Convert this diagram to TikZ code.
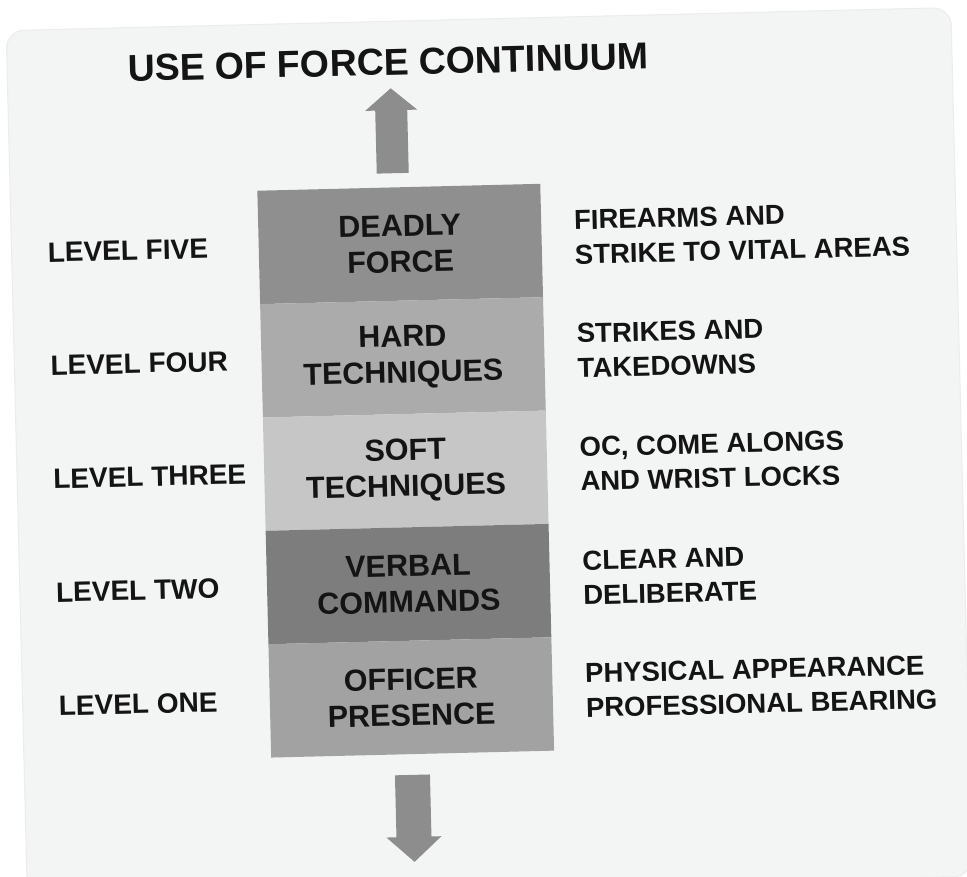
\documentclass[tikz,border=0pt]{standalone}
\usepackage{fontspec}
\setmainfont{Liberation Sans}
\definecolor{cardbg}{HTML}{F3F4F4}
\definecolor{cardline}{HTML}{EBECEC}
\definecolor{bandA}{HTML}{8F8F8F}
\definecolor{bandB}{HTML}{ABABAB}
\definecolor{bandC}{HTML}{C6C6C6}
\definecolor{bandD}{HTML}{7D7D7D}
\definecolor{bandE}{HTML}{A2A2A2}
\definecolor{arrowgray}{HTML}{8D8D8D}
\definecolor{ink}{HTML}{141414}
\tikzset{
  band/.style={minimum width=283pt, minimum height=113.4pt, inner sep=0pt, anchor=north west,
    align=center, text=ink, font=\bfseries\fontsize{30.5}{36}\selectfont, transform shape},
  levellabel/.style={anchor=west, inner sep=0pt, text=ink, font=\bfseries\fontsize{28}{34}\selectfont, transform shape},
  desclabel/.style={anchor=west, inner sep=0pt, align=left, text=ink, font=\bfseries\fontsize{27.5}{34.5}\selectfont, transform shape},
  titlelabel/.style={inner sep=0pt, text=ink, font=\bfseries\fontsize{37.5}{40}\selectfont, transform shape},
}
\begin{document}
\begin{tikzpicture}[x=1pt,y=-1pt]
\useasboundingbox (0,0) rectangle (967,876);
\fill[white] (0,0) rectangle (967,876);
\begin{scope}[rotate around={1.4:(405,470)}]
  % card
  \filldraw[fill=cardbg, draw=cardline, line width=1pt, rounded corners=18pt] (17,21) rectangle (962,890);
  % title
  \node[titlelabel] (title) at (398,62) {USE OF FORCE CONTINUUM};
  % up arrow
  \fill[arrowgray] (384,173) -- (384,110) -- (374,110) -- (400,88) -- (426,110) -- (416,110) -- (416,173) -- cycle;
  % bands
  \node[band, fill=bandA] (b5) at (264,187)   {DEADLY\\FORCE};
  \node[band, fill=bandB] (b4) at (264,300.4) {HARD\\TECHNIQUES};
  \node[band, fill=bandC] (b3) at (264,413.8) {SOFT\\TECHNIQUES};
  \node[band, fill=bandD] (b2) at (264,527.2) {VERBAL\\COMMANDS};
  \node[band, fill=bandE] (b1) at (264,640.6) {OFFICER\\PRESENCE};
  % down arrow
  \fill[arrowgray] (387.5,775) -- (387.5,837) -- (377.5,837) -- (405,862) -- (432.5,837) -- (422.5,837) -- (422.5,775) -- cycle;
  % level labels
  \node[levellabel] (l5) at (53,243.7) {LEVEL FIVE};
  \node[levellabel] (l4) at (53,357.1) {LEVEL FOUR};
  \node[levellabel] (l3) at (53,470.5) {LEVEL THREE};
  \node[levellabel] (l2) at (53,583.9) {LEVEL TWO};
  \node[levellabel] (l1) at (53,697.3) {LEVEL ONE};
  % descriptions
  \node[desclabel] (d5) at (580,241.5) {FIREARMS AND\\STRIKE TO VITAL AREAS};
  \node[desclabel] (d4) at (580,355) {STRIKES AND\\TAKEDOWNS};
  \node[desclabel] (d3) at (580,468.5) {OC, COME ALONGS\\AND WRIST LOCKS};
  \node[desclabel] (d2) at (580,582) {CLEAR AND\\DELIBERATE};
  \node[desclabel] (d1) at (580,695) {PHYSICAL APPEARANCE\\PROFESSIONAL BEARING};
\end{scope}
\end{tikzpicture}
\end{document}
